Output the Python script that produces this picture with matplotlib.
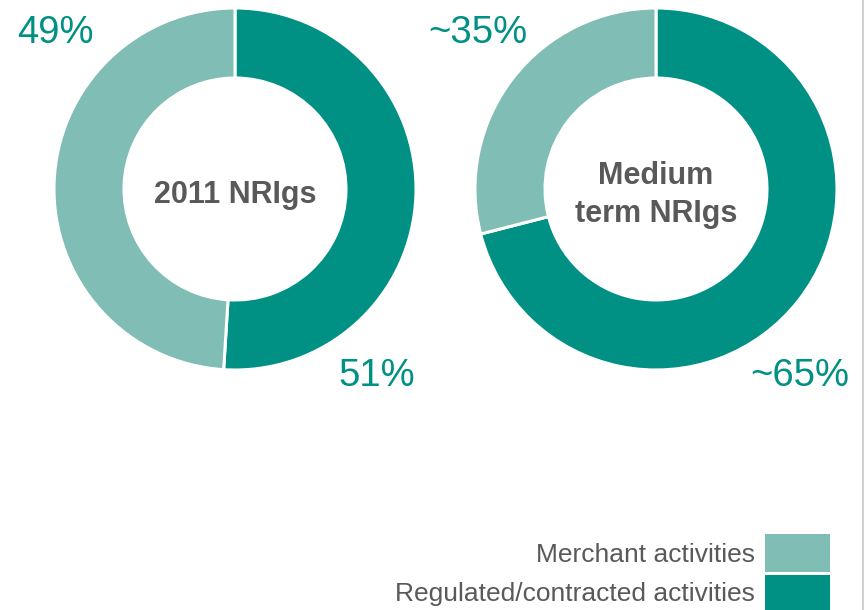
import matplotlib.pyplot as plt
from matplotlib.patches import Rectangle

# ============== DATA ==============
labels      = ["Regulated/contracted activities", "Merchant activities"]
share_2011  = [51, 49]
share_mid   = [71, 29]   # drawn split (labelled ~65/~35)
pct_2011    = ["51%", "49%"]
pct_mid     = ["~65%", "~35%"]
titles      = ["2011 NRIgs", "Medium\nterm NRIgs"]
# ==================================

DARK  = "#009084"
LIGHT = "#80BDB4"
GREY  = "#595959"

plt.rcParams['font.family'] = ['Liberation Sans', 'DejaVu Sans']

fig = plt.figure(figsize=(8.66, 6.10), dpi=100)
ax = fig.add_axes([0, 0, 1, 1])

R_OUT = 181
WIDTH = 70

centers = [(235, 189), (656, 189)]
for (cx, cy), vals, title in zip(centers, [share_2011, share_mid], titles):
    # y axis inverted -> counterclock True draws clockwise on screen
    ax.pie(vals, colors=[DARK, LIGHT], startangle=-90, counterclock=True,
           center=(cx, cy), radius=R_OUT,
           wedgeprops=dict(width=WIDTH, edgecolor="white", linewidth=2.2))
    ax.text(cx, cy + 6, title, ha="center", va="center", fontsize=22,
            fontweight="bold", color=GREY, linespacing=1.35)

ax.set_xlim(0, 866)
ax.set_ylim(610, 0)
ax.set_aspect("equal")
ax.axis("off")

# percentage labels
ax.text(55, 33, pct_2011[1], ha="center", va="center", fontsize=27.5, color=DARK)
ax.text(377, 376, pct_2011[0], ha="center", va="center", fontsize=27.5, color=DARK)
ax.text(478, 33, pct_mid[1], ha="center", va="center", fontsize=27.5, color=DARK)
ax.text(800, 376, pct_mid[0], ha="center", va="center", fontsize=27.5, color=DARK)

# legend drawn by hand
ax.add_patch(Rectangle((765, 534), 65, 38, facecolor=LIGHT, edgecolor="none"))
ax.add_patch(Rectangle((765, 575), 65, 40, facecolor=DARK, edgecolor="none"))
ax.text(755, 555, labels[1], ha="right", va="center", fontsize=19, color=GREY)
ax.text(755, 594, labels[0], ha="right", va="center", fontsize=19, color=GREY)

# thin frame line on the right edge
ax.plot([863, 863], [0, 610], color="#c8c8c8", linewidth=1.2)

fig.savefig("out.png", dpi=100)
